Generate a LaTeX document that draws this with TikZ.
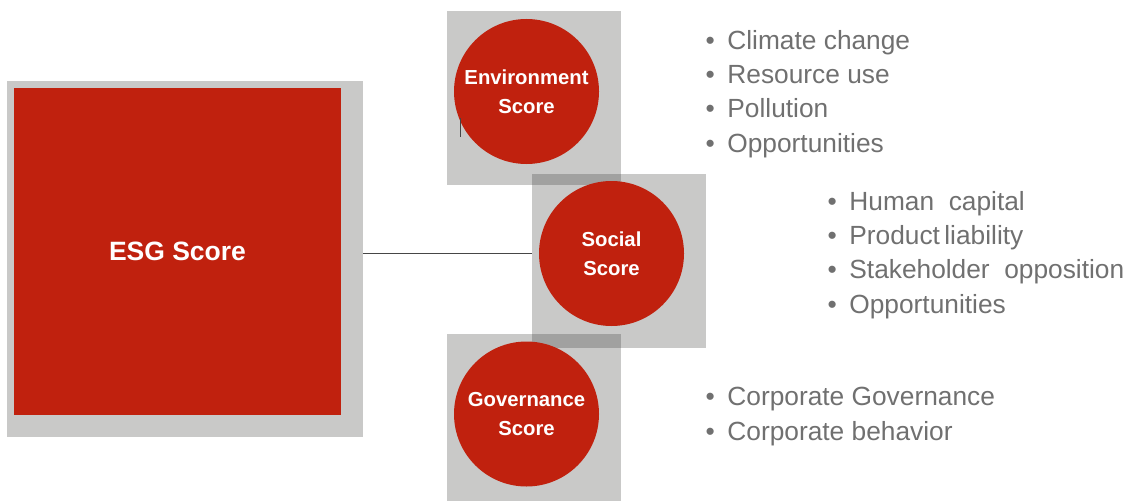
\documentclass[tikz,border=0pt]{standalone}
\usepackage{fontspec}
\setmainfont{Liberation Sans}
\usepackage{tikz}
\usetikzlibrary{positioning}
\definecolor{esgred}{RGB}{192,33,14}
\definecolor{panelgray}{RGB}{54,54,52}
\definecolor{itemgray}{RGB}{112,112,112}
\definecolor{linegray}{RGB}{70,70,70}

\begin{document}
\begin{tikzpicture}[x=1pt,y=-1pt,
    backsq/.style={fill=panelgray,fill opacity=0.27,minimum size=174pt,inner sep=0pt},
    scorecirc/.style={circle,fill=esgred,minimum size=145pt,inner sep=0pt,text=white,
      align=center,font=\fontsize{20.3}{29.5}\selectfont\bfseries},
    item/.style={anchor=base west,inner sep=0pt,text=itemgray,font=\fontsize{26.3}{30}\selectfont}]
  \useasboundingbox (0,0) rectangle (1131,500);

  \node[backsq,minimum size=356pt] (esgback) at (185,259) {};
  \node[fill=esgred,minimum size=327pt,inner sep=0pt,text=white,
    font=\fontsize{26.5}{30}\selectfont\bfseries] (esg) at (177.5,251.5) {ESG Score};

  \node[backsq] (envback) at (534,98) {};
  \node[backsq] (socback) at (619,261) {};
  \node[backsq] (govback) at (534,421) {};

  \node[scorecirc] (env) at ([shift={(-7.5,-6.5)}]envback.center) {Environment\\Score};
  \node[scorecirc] (soc) at ([shift={(-7.5,-7.5)}]socback.center) {Social\\Score};
  \node[scorecirc] (gov) at ([shift={(-7.5,-7)}]govback.center) {Governance\\Score};

  \coordinate (linelevel) at (0,253.5);
  \draw[linegray,line width=1.2pt] (esgback.east |- linelevel) -- (socback.west |- linelevel);
  \draw[linegray,line width=1pt] (460,118) -- (460,137);

  \foreach \txt [count=\i] in {Climate change,Resource use,Pollution,Opportunities}
    \node[item] (envitem\i) at (705.5,{49.5+34.2*(\i-1)}) {\textbullet\hspace{12.5pt}\txt};
  \foreach \txt [count=\i] in {Human\ \ capital,Product\,liability,Stakeholder\ \ opposition,Opportunities}
    \node[item] (socitem\i) at (827.5,{210.5+34.2*(\i-1)}) {\textbullet\hspace{12.5pt}\txt};
  \foreach \txt [count=\i] in {Corporate Governance,Corporate behavior}
    \node[item] (govitem\i) at (705.5,{405.5+35*(\i-1)}) {\textbullet\hspace{12.5pt}\txt};
\end{tikzpicture}
\end{document}
